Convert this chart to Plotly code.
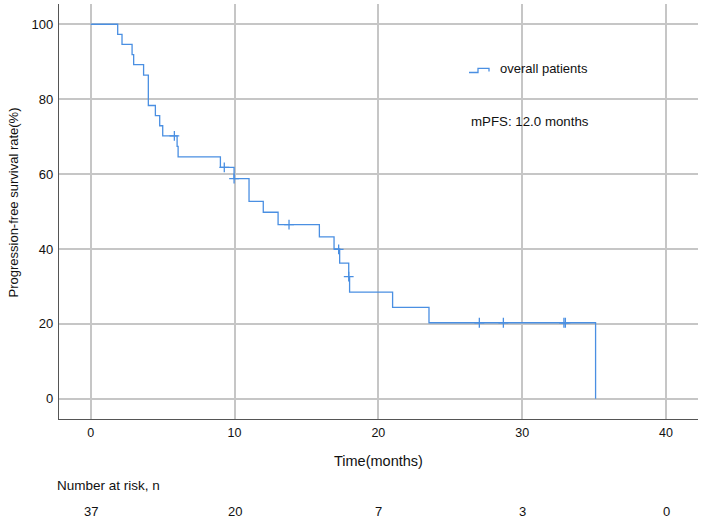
import plotly.graph_objects as go

# ---- data ----
step_times = [0, 1.88, 2.18, 2.88, 2.99, 3.68, 4.01, 4.50, 4.80, 5.01, 6.01, 6.08,
              9.02, 9.97, 11.01, 12.0, 13.03, 15.9, 16.92, 17.31, 17.94, 18.0,
              20.99, 23.52, 35.1]
step_surv = [100, 97.3, 94.6, 91.9, 89.2, 86.4, 78.3, 75.6, 72.9, 70.2, 67.4, 64.6,
             61.8, 58.8, 52.7, 49.8, 46.5, 43.2, 40.0, 36.2, 32.6, 28.5,
             24.4, 20.3, 0]
censor_times = [5.82, 9.29, 9.97, 13.79, 17.24, 17.94, 27.02, 28.69, 32.9, 33.0]
censor_surv = [70.2, 61.8, 58.8, 46.5, 39.9, 32.6, 20.3, 20.3, 20.3, 20.3]

risk_times = [0, 10, 20, 30, 40]
risk_counts = [37, 20, 7, 3, 0]

x_ticks = [0, 10, 20, 30, 40]
y_ticks = [0, 20, 40, 60, 80, 100]

series_name = "overall patients"
median_text = "mPFS: 12.0 months"

COLOR = "#4A8FE2"
FONT = "Liberation Sans, Arial, sans-serif"

W, H = 702, 519
ML, MR, MT, MB = 59, 4, 4, 100
PW, PH = W - ML - MR, H - MT - MB


def px(xp):
    return (xp - ML) / PW


def py(yp):
    return (H - MB - yp) / PH


fig = go.Figure()

fig.add_trace(go.Scatter(
    x=step_times, y=step_surv, mode="lines", line_shape="hv",
    line=dict(color=COLOR, width=1.3), name=series_name, showlegend=False,
    hoverinfo="skip"))

fig.add_trace(go.Scatter(
    x=censor_times, y=censor_surv, mode="markers",
    marker=dict(symbol="cross-thin", size=7, line=dict(color=COLOR, width=1.3),
                color=COLOR),
    showlegend=False, hoverinfo="skip"))

annotations = []
# y-axis title
annotations.append(dict(text="Progression-free survival rate(%)", xref="paper", yref="paper",
                        x=px(12.5), y=py(203), showarrow=False, textangle=-90,
                        xanchor="center", yanchor="middle",
                        font=dict(family=FONT, size=13, color="#111")))
# x-axis title
annotations.append(dict(text="Time(months)", xref="paper", yref="paper",
                        x=px(378), y=py(461), showarrow=False,
                        xanchor="center", yanchor="middle",
                        font=dict(family=FONT, size=14.5, color="#111")))
# number at risk
annotations.append(dict(text="Number at risk, n", xref="paper", yref="paper",
                        x=px(55), y=py(485), showarrow=False,
                        xanchor="left", yanchor="middle",
                        font=dict(family=FONT, size=13.5, color="#111")))
for t, n in zip(risk_times, risk_counts):
    annotations.append(dict(text=str(n), xref="x", yref="paper", x=t, y=py(511),
                            showarrow=False, xanchor="center", yanchor="middle",
                            font=dict(family=FONT, size=13, color="#111")))
# legend
annotations.append(dict(text=series_name, xref="paper", yref="paper",
                        x=px(498), y=py(69), showarrow=False,
                        xanchor="left", yanchor="middle",
                        font=dict(family=FONT, size=13, color="#111")))
annotations.append(dict(text=median_text, xref="paper", yref="paper",
                        x=px(469), y=py(121), showarrow=False,
                        xanchor="left", yanchor="middle",
                        font=dict(family=FONT, size=13.3, color="#111")))

# legend step icon (pixel path converted to paper coords)
icon = [(469, 72.5), (478, 72.5), (478, 68.3), (489, 68.3), (489, 71.5)]
path = "M " + " L ".join(f"{px(a):.5f},{py(b):.5f}" for a, b in icon)

fig.update_layout(
    width=W, height=H,
    margin=dict(l=ML, r=MR, t=MT, b=MB, pad=0),
    paper_bgcolor="white", plot_bgcolor="white",
    font=dict(family=FONT, size=12, color="#111"),
    annotations=annotations,
    shapes=[dict(type="path", path=path, xref="paper", yref="paper",
                 line=dict(color=COLOR, width=1.3))],
    showlegend=False,
)

fig.update_xaxes(
    range=[-2.2, 42.22], tickvals=x_ticks, ticktext=[str(v) for v in x_ticks],
    showgrid=True, gridcolor="#C6C6C6", gridwidth=1.5, zeroline=False,
    showline=True, linecolor="#555", linewidth=1.2, mirror=False,
    ticks="", ticklabelstandoff=2, tickfont=dict(family=FONT, size=12.5, color="#111"))
fig.update_yaxes(
    range=[-5.4, 105.4], tickvals=y_ticks, ticktext=[str(v) for v in y_ticks],
    showgrid=True, gridcolor="#C6C6C6", gridwidth=1.5, zeroline=False,
    showline=True, linecolor="#555", linewidth=1.2, mirror=False,
    ticks="", ticklabelstandoff=2, tickfont=dict(family=FONT, size=13, color="#111"))

fig.write_html("out.html")
